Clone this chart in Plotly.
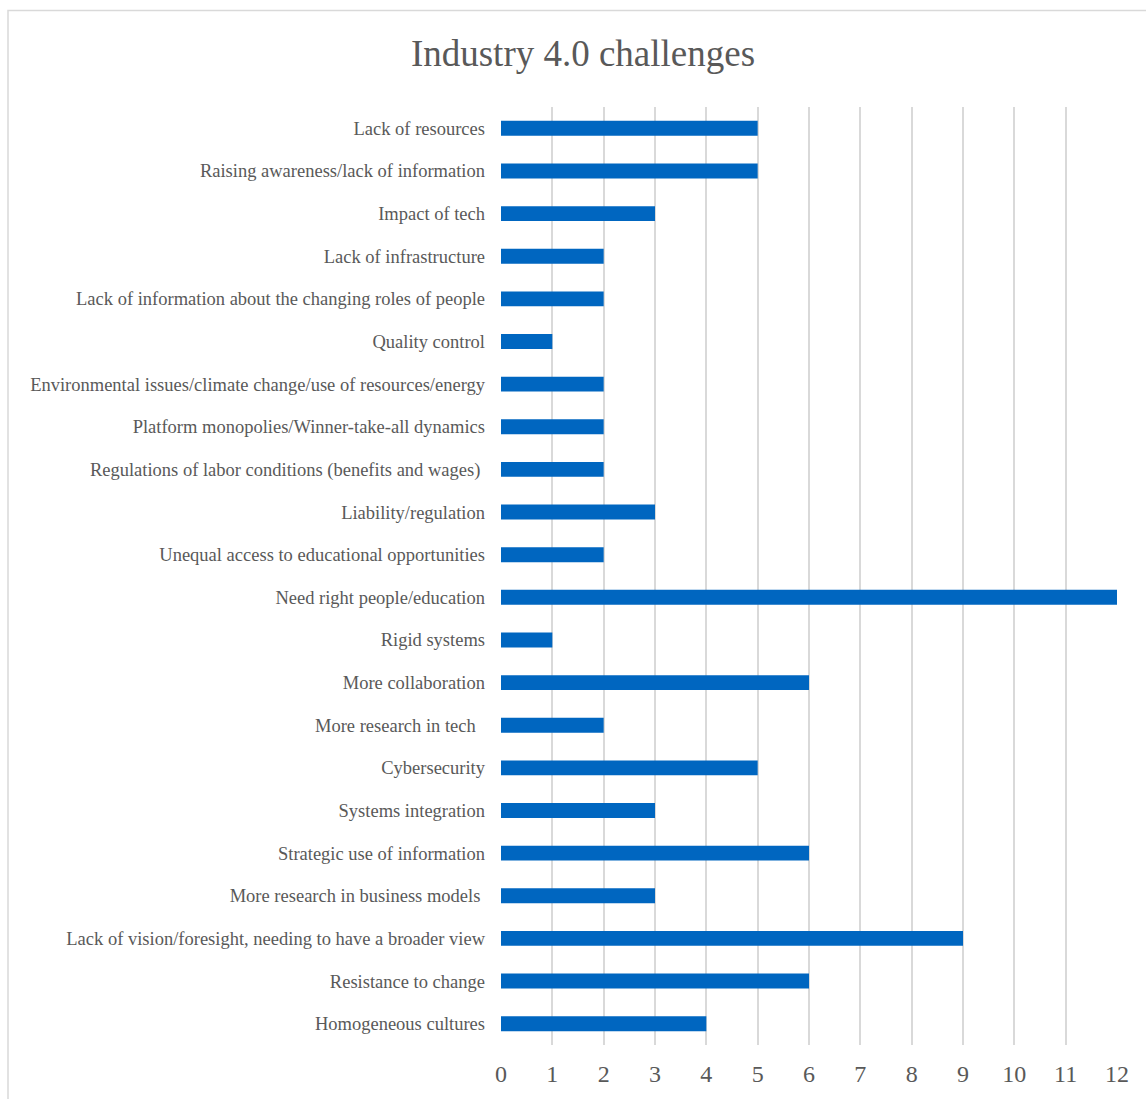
import plotly.graph_objects as go

categories = [
    "Lack of resources",
    "Raising awareness/lack of information",
    "Impact of tech",
    "Lack of infrastructure",
    "Lack of information about the changing roles of people",
    "Quality control",
    "Environmental issues/climate change/use of resources/energy",
    "Platform monopolies/Winner-take-all dynamics",
    "Regulations of labor conditions (benefits and wages)\u00a0",
    "Liability/regulation",
    "Unequal access to educational opportunities",
    "Need right people/education",
    "Rigid systems",
    "More collaboration",
    "More research in tech\u00a0\u00a0",
    "Cybersecurity",
    "Systems integration",
    "Strategic use of information",
    "More research in business models\u00a0",
    "Lack of vision/foresight, needing to have a broader view",
    "Resistance to change",
    "Homogeneous cultures",
]
values = [5, 5, 3, 2, 2, 1, 2, 2, 2, 3, 2, 12, 1, 6, 2, 5, 3, 6, 3, 9, 6, 4]
x_ticks = list(range(0, 13))

W, H = 1146, 1099
L, R, T, B = 501, 29, 107, 49
pw = W - L - R
ph = H - T - B

fig = go.Figure(go.Bar(
    x=values, y=categories, orientation="h",
    marker=dict(color="#0066C0", line=dict(width=0)),
    hoverinfo="x+y",
))

fig.update_layout(
    width=W, height=H,
    margin=dict(l=L, r=R, t=T, b=B),
    paper_bgcolor="white", plot_bgcolor="white",
    bargap=0.65,
    showlegend=False,
    font=dict(family="Liberation Serif, Times New Roman, serif", color="#595959"),
    title=dict(text="Industry 4.0 challenges", x=(583) / W, xanchor="center",
               y=1 - 53 / H, yanchor="middle",
               font=dict(size=37, color="#595959",
                         family="Liberation Serif, Times New Roman, serif")),
    xaxis=dict(range=[0, 12], tickvals=x_ticks, showgrid=True,
               gridcolor="#D9D9D9", gridwidth=1.5, zeroline=False,
               showline=False, ticks="", tickfont=dict(size=24, color="#595959"),
               ticklabelstandoff=12),
    yaxis=dict(autorange="reversed", showgrid=False, zeroline=False,
               showline=False, ticks="", tickfont=dict(size=18.5, color="#595959"),
               ticklabelstandoff=15),
    shapes=[dict(type="rect", xref="paper", yref="paper",
                 x0=(8 - L) / pw, x1=(W + 6 - L) / pw,
                 y0=(H - B - (H + 6)) / ph, y1=(H - B - 10) / ph,
                 line=dict(color="#D9D9D9", width=1.5), layer="below")],
)

fig.write_html("out.html")
